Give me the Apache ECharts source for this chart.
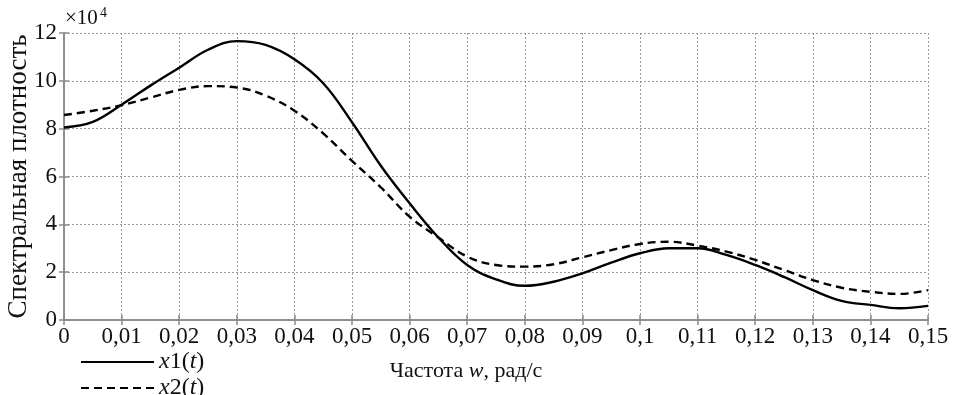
<!DOCTYPE html>
<html>
<head>
<meta charset="utf-8">
<script src="https://cdn.jsdelivr.net/npm/echarts@6/dist/echarts.min.js"></script>
<style>html,body{margin:0;padding:0;background:#fff;}#c{width:953px;height:395px;}</style>
</head>
<body>
<div id="c"></div>
<script>
const freq = [0,0.005,0.01,0.015,0.02,0.025,0.03,0.035,0.04,0.045,0.05,0.055,0.06,0.065,0.07,0.075,0.08,0.085,0.09,0.095,0.1,0.105,0.11,0.115,0.12,0.125,0.13,0.135,0.14,0.145,0.15];
const x1 = [8.05,8.28,9.0,9.8,10.55,11.3,11.66,11.5,10.9,9.9,8.27,6.45,4.88,3.45,2.3,1.7,1.43,1.6,1.95,2.4,2.79,3.0,3.0,2.72,2.3,1.8,1.25,0.8,0.63,0.49,0.59];
const x2 = [8.57,8.75,8.98,9.3,9.62,9.78,9.72,9.38,8.75,7.8,6.65,5.55,4.32,3.45,2.65,2.3,2.23,2.33,2.62,2.92,3.18,3.27,3.11,2.86,2.51,2.09,1.67,1.35,1.18,1.09,1.25];
const seriesNames = ['x1(t)','x2(t)'];
const xTitle = '{n|Частота }{i|w}{n|, рад/с}';
const yTitle = 'Спектральная плотность';

const FONT = '"Liberation Serif", "Times New Roman", serif';
const frame = '#8a8a8a';
const gridC = '#9a9a9a';

const chart = echarts.init(document.getElementById('c'));
const fmtX = v => { const r = Math.round(v*100)/100; return String(r).replace('.', ','); };

const baseX = {
  type: 'value', min: 0, max: 0.15, interval: 0.01,
  axisLine: {show: true, lineStyle: {color: frame, width: 1.5}},
  axisTick: {show: true, inside: true, length: 5, lineStyle: {color: frame, width: 1.5}},
  splitLine: {show: false}
};
const baseY = {
  type: 'value', min: 0, max: 12, interval: 2,
  axisLine: {show: true, lineStyle: {color: frame, width: 1.5}},
  axisTick: {show: true, inside: true, length: 5, lineStyle: {color: frame, width: 1.5}},
  splitLine: {show: false}
};
const LF = 24;
const legendText = {fontFamily: FONT, fontSize: LF, color: '#111',
  rich: {i: {fontFamily: FONT, fontSize: LF, fontStyle: 'italic', color: '#111'},
         n: {fontFamily: FONT, fontSize: LF, color: '#111'}}};
const mkLegend = (name, top) => ({
  orient: 'vertical', left: 80, top: top, padding: 0,
  itemWidth: 73, itemHeight: 14, itemGap: 0,
  data: [name],
  itemStyle: {opacity: 0},
  formatter: n => n === seriesNames[0] ? '{i|x}{n|1(}{i|t}{n|)}' : '{i|x}{n|2(}{i|t}{n|)}',
  textStyle: legendText
});

chart.setOption({
  animation: false,
  backgroundColor: '#fff',
  title: [
    {text: '×10', left: 65, top: 8, padding: 0, textStyle: {fontFamily: FONT, fontSize: 21, fontWeight: 'normal', color: '#111'}},
    {text: '4', left: 100, top: 6, padding: 0, textStyle: {fontFamily: FONT, fontSize: 14, fontWeight: 'normal', color: '#111'}}
  ],
  grid: {left: 64, right: 25, top: 33, bottom: 75, containLabel: false, outerBoundsMode: 'none'},
  legend: [mkLegend(seriesNames[0], 350), mkLegend(seriesNames[1], 376)],
  xAxis: [
    Object.assign({}, baseX, {
      position: 'bottom',
      name: xTitle, nameLocation: 'middle', nameGap: 40, nameMoveOverlap: false,
      nameTextStyle: {fontFamily: FONT, fontSize: 22, color: '#111', padding: [0, 60, 0, 0],
        rich: {n: {fontFamily: FONT, fontSize: 22, color: '#111'},
               i: {fontFamily: FONT, fontSize: 22, fontStyle: 'italic', color: '#111'}}},
      axisLabel: {show: true, formatter: fmtX, margin: 5, fontFamily: FONT, fontSize: 23, color: '#111'},
      splitLine: {show: true, lineStyle: {color: gridC, type: [2, 2], width: 1}}
    }),
    Object.assign({}, baseX, {position: 'top', axisLabel: {show: false}})
  ],
  yAxis: [
    Object.assign({}, baseY, {
      position: 'left',
      name: yTitle, nameLocation: 'middle', nameGap: 32, nameMoveOverlap: false,
      nameTextStyle: {fontFamily: FONT, fontSize: 27, color: '#111'},
      axisLabel: {show: true, margin: 7, fontFamily: FONT, fontSize: 23, color: '#111'},
      splitLine: {show: true, lineStyle: {color: gridC, type: [2, 2], width: 1}}
    }),
    Object.assign({}, baseY, {position: 'right', axisLabel: {show: false}})
  ],
  series: [
    {name: seriesNames[0], type: 'line', xAxisIndex: 0, yAxisIndex: 0, symbol: 'none', smooth: 0.4,
     data: freq.map((f, i) => [f, x1[i]]),
     lineStyle: {color: '#000', width: 2.4, type: 'solid'}, itemStyle: {color: '#000'}},
    {name: seriesNames[1], type: 'line', xAxisIndex: 0, yAxisIndex: 0, symbol: 'none', smooth: 0.4,
     data: freq.map((f, i) => [f, x2[i]]),
     lineStyle: {color: '#000', width: 2.4, type: [8, 5]}, itemStyle: {color: '#000'}}
  ]
});
</script>
</body>
</html>
